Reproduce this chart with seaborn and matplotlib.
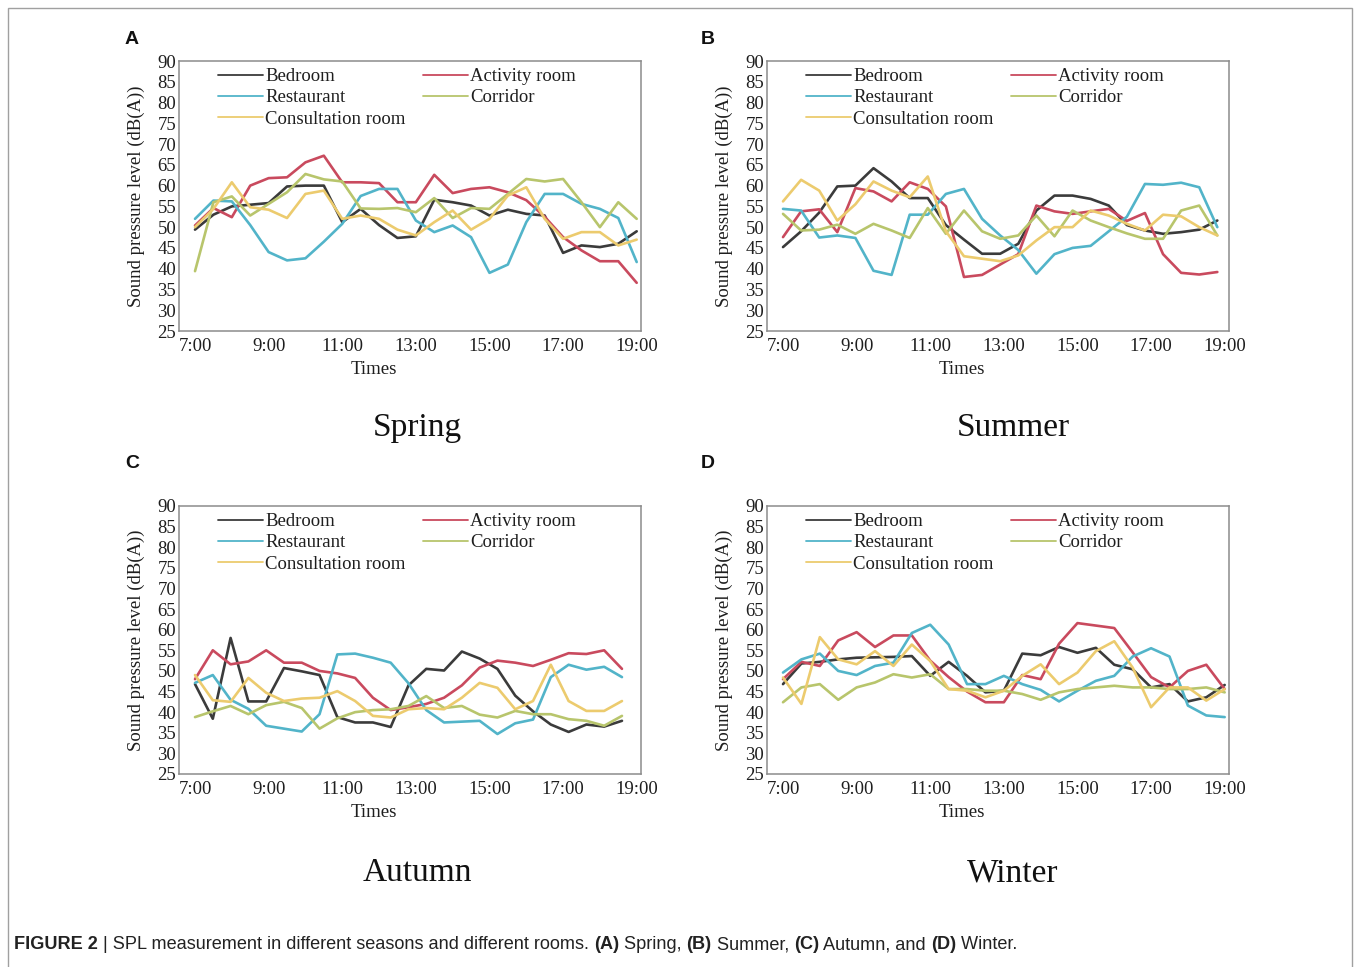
import numpy as np
import pandas as pd
import matplotlib
matplotlib.use("Agg")
import matplotlib.pyplot as plt
import seaborn as sns

# ---------------------------------------------------------------- data
ROOMS = ["Bedroom", "Activity room", "Restaurant", "Corridor", "Consultation room"]
ROOM_COLORS = ["#3b3b3b", "#c94a5e", "#52b4c9", "#b8c56c", "#eccb6e"]

SPRING = {
    "Bedroom": [49.4, 53.0, 55.0, 55.4, 55.8, 59.8, 60.0, 60.0, 51.2, 54.4, 50.5, 47.4, 47.8,
                56.6, 56.0, 55.2, 52.8, 54.2, 53.2, 52.8, 43.8, 45.6, 45.2, 46.0, 49.0],
    "Activity room": [50.4, 54.6, 52.4, 60.0, 61.8, 62.0, 65.6, 67.2, 60.8, 60.8, 60.6, 56.0, 56.0,
                      62.6, 58.2, 59.2, 59.6, 58.4, 56.5, 52.5, 47.6, 44.4, 41.8, 41.8, 36.6],
    "Restaurant": [52.0, 56.4, 56.2, 50.5, 44.0, 42.0, 42.5, 46.5, 50.8, 57.5, 59.2, 59.2, 51.6,
                   48.8, 50.4, 47.6, 39.0, 41.0, 51.2, 58.0, 58.0, 55.6, 54.4, 52.2, 41.6],
    "Corridor": [39.4, 56.0, 57.4, 52.8, 55.6, 58.4, 62.8, 61.5, 61.0, 54.5, 54.4, 54.6, 53.6,
                 57.0, 52.2, 54.6, 54.4, 58.0, 61.6, 61.0, 61.6, 56.0, 50.0, 56.0, 52.0],
    "Consultation room": [50.0, 54.4, 60.8, 54.8, 54.2, 52.2, 58.0, 58.8, 52.0, 52.8, 52.0, 49.4, 48.0,
                          51.2, 54.0, 49.4, 52.0, 57.6, 59.6, 52.0, 47.2, 48.8, 48.8, 45.6, 47.0],
}

SUMMER = {
    "Bedroom": [45.2, 49.0, 53.5, 59.8, 60.0, 64.2, 61.0, 57.0, 57.0, 50.5, 47.0, 43.6, 43.6,
                46.0, 54.0, 57.6, 57.6, 56.8, 55.2, 50.5, 49.2, 48.4, 48.8, 49.4, 51.6],
    "Activity room": [47.6, 53.8, 54.3, 48.8, 59.4, 58.6, 56.2, 60.8, 59.2, 55.0, 38.0, 38.5, 41.0,
                      43.5, 55.2, 53.8, 53.2, 53.8, 54.4, 51.5, 53.4, 43.5, 39.0, 38.6, 39.2],
    "Restaurant": [54.4, 54.0, 47.5, 48.0, 47.4, 39.5, 38.5, 53.0, 53.0, 58.0, 59.2, 52.0, 48.0,
                   44.5, 38.8, 43.5, 45.0, 45.5, 49.0, 52.5, 60.4, 60.2, 60.7, 59.6, 50.0],
    "Corridor": [53.2, 49.2, 49.4, 50.6, 48.4, 50.8, 49.2, 47.4, 54.6, 48.4, 54.0, 49.0, 47.2,
                 48.0, 52.8, 47.8, 54.0, 51.6, 50.0, 48.5, 47.2, 47.2, 54.0, 55.2, 48.0],
    "Consultation room": [56.2, 61.4, 58.8, 51.6, 55.5, 61.0, 58.8, 57.2, 62.2, 49.0, 43.0, 42.4, 41.8,
                          43.2, 46.8, 50.0, 50.0, 54.0, 52.8, 50.8, 49.2, 53.0, 52.6, 50.0, 48.0],
}

AUTUMN = {
    "Bedroom": [46.8, 38.4, 58.0, 42.6, 42.6, 50.7, 49.9, 49.0, 38.8, 37.5, 37.5, 36.4, 46.5,
                50.5, 50.1, 54.7, 53.0, 50.5, 44.0, 40.2, 37.0, 35.2, 37.0, 36.5, 37.9],
    "Activity room": [48.0, 55.0, 51.6, 52.3, 55.0, 52.0, 52.0, 50.0, 49.4, 48.3, 43.5, 40.5, 41.2,
                      42.0, 43.5, 46.5, 50.8, 52.5, 52.0, 51.2, 52.7, 54.3, 54.1, 55.0, 50.5],
    "Restaurant": [47.1, 49.0, 43.0, 40.8, 36.7, 36.0, 35.3, 39.5, 54.0, 54.2, 53.2, 52.0, 47.0,
                   40.5, 37.5, 37.7, 37.9, 34.7, 37.3, 38.2, 48.5, 51.5, 50.3, 51.0, 48.5],
    "Corridor": [38.8, 40.2, 41.5, 39.5, 41.7, 42.5, 41.0, 36.0, 38.5, 40.0, 40.5, 40.7, 41.5,
                 43.9, 41.0, 41.5, 39.4, 38.7, 40.3, 39.5, 39.5, 38.3, 37.9, 36.7, 39.1],
    "Consultation room": [49.0, 42.9, 42.5, 48.3, 44.7, 42.7, 43.3, 43.5, 45.1, 42.7, 39.1, 38.7, 40.7,
                          41.0, 40.7, 43.5, 47.1, 45.9, 40.7, 42.7, 51.5, 42.7, 40.3, 40.3, 42.7],
}

WINTER = {
    "Bedroom": [46.8, 51.8, 52.2, 52.8, 53.2, 53.3, 53.4, 53.6, 48.8, 52.2, 48.8, 44.8, 45.2,
                54.2, 53.8, 55.8, 54.4, 55.6, 51.5, 50.4, 46.0, 46.8, 42.6, 43.6, 46.6],
    "Activity room": [48.0, 52.2, 51.2, 57.4, 59.4, 55.8, 58.6, 58.6, 52.5, 48.5, 45.0, 42.4, 42.4,
                      49.0, 48.0, 56.6, 61.6, 61.0, 60.4, 54.5, 48.5, 46.0, 50.0, 51.5, 45.6],
    "Restaurant": [49.6, 52.8, 54.2, 50.0, 49.0, 51.2, 52.0, 59.2, 61.2, 56.4, 46.8, 46.8, 48.8,
                   46.8, 45.4, 42.6, 45.2, 47.6, 48.8, 53.5, 55.5, 53.5, 41.6, 39.2, 38.8],
    "Corridor": [42.4, 46.0, 46.8, 43.0, 46.0, 47.2, 49.2, 48.4, 49.2, 45.6, 45.6, 45.2, 45.2,
                 44.4, 43.0, 44.8, 45.6, 46.0, 46.4, 46.0, 46.0, 45.6, 45.6, 46.0, 44.8],
    "Consultation room": [48.4, 42.0, 58.2, 52.8, 51.6, 54.8, 51.2, 56.4, 52.4, 45.6, 45.2, 43.6, 45.2,
                          48.8, 51.6, 46.8, 49.6, 54.8, 57.2, 50.8, 41.2, 46.0, 46.0, 42.8, 45.6],
}

SEASONS = ["Spring", "Summer", "Autumn", "Winter"]
SEASON_DATA = [SPRING, SUMMER, AUTUMN, WINTER]
PANEL_LETTERS = ["A", "B", "C", "D"]
# clock time (hours) of the last reading of the day in each season
LAST_READING = [19.0, 18.8, 18.6, 19.0]
TICK_HOURS = [7, 9, 11, 13, 15, 17, 19]
TICK_LABELS = ["7:00", "9:00", "11:00", "13:00", "15:00", "17:00", "19:00"]
Y_TICKS = list(range(25, 95, 5))

# ---------------------------------------------------------------- style
sns.set_theme(style="white")
plt.rcParams["font.family"] = ["Liberation Serif", "DejaVu Serif"]
plt.rcParams["axes.unicode_minus"] = False

W, H = 1360, 967
fig = plt.figure(figsize=(W / 100, H / 100), dpi=100)
fig.patch.set_facecolor("white")


def axes_at(left, top, right, bottom):
    return fig.add_axes([left / W, 1 - bottom / H, (right - left) / W, (bottom - top) / H])


PANEL_BOXES = [(179, 61, 641, 331), (767, 61, 1229, 331),
               (179, 506, 641, 774), (767, 506, 1229, 774)]
LETTER_POS = [(132, 40), (708, 40), (132, 464), (708, 464)]
TITLE_POS = [(417, 428), (1013, 428), (417, 873), (1013, 873)]
SPINE_COLOR = "#8c8c8c"
TEXT_COLOR = "#1e1e1e"

for season, data, letter, last, box, lpos, tpos in zip(
        SEASONS, SEASON_DATA, PANEL_LETTERS, LAST_READING, PANEL_BOXES, LETTER_POS, TITLE_POS):
    times = np.linspace(7.0, last, len(data["Bedroom"]))
    long = pd.concat(
        [pd.DataFrame({"time": times, "spl": data[r], "room": r}) for r in ROOMS],
        ignore_index=True)

    ax = axes_at(*box)
    sns.lineplot(data=long, x="time", y="spl", hue="room", hue_order=ROOMS,
                 palette=ROOM_COLORS, linewidth=1.9, ax=ax, legend=True)

    ax.set_xlim(6.565, 19.117)
    ax.set_ylim(25, 90)
    ax.set_xticks(TICK_HOURS)
    ax.set_xticklabels(TICK_LABELS)
    ax.set_yticks(Y_TICKS)
    ax.tick_params(axis="both", direction="in", length=5, width=1.0, color=SPINE_COLOR,
                   labelsize=13.5, labelcolor=TEXT_COLOR)
    ax.tick_params(axis="y", pad=2)
    ax.tick_params(axis="x", pad=5)
    for sp in ax.spines.values():
        sp.set_visible(True)
        sp.set_color(SPINE_COLOR)
        sp.set_linewidth(1.1)

    ax.set_xlabel("Times", fontsize=13.5, color=TEXT_COLOR)
    ax.xaxis.set_label_coords(0.422, -0.112)
    ax.set_ylabel("Sound pressure level (dB(A))", fontsize=13.5, color=TEXT_COLOR)
    ax.yaxis.set_label_coords(-0.074, 0.5)

    # legend in two columns, filled row by row
    handles, labels = ax.get_legend_handles_labels()
    lookup = dict(zip(labels, handles))
    order = ["Bedroom", "Restaurant", "Consultation room", "Activity room", "Corridor"]
    leg = ax.legend([lookup[k] for k in order], order, ncol=2, frameon=False,
                    loc="upper left", bbox_to_anchor=(0.084, 0.974), borderaxespad=0,
                    borderpad=0, fontsize=13.5, handlelength=2.4, handletextpad=0.12,
                    labelspacing=0.22, columnspacing=0.95)
    for t in leg.get_texts():
        t.set_color(TEXT_COLOR)
    for ln in leg.get_lines():
        ln.set_linewidth(1.3)

    fig.text(lpos[0] / W, 1 - lpos[1] / H, letter, ha="center", va="center",
             fontsize=14, fontweight="bold", family=["Liberation Sans", "DejaVu Sans"],
             color="#111111")
    fig.text(tpos[0] / W, 1 - tpos[1] / H, season, ha="center", va="center",
             fontsize=24, color="#111111")

# thin frame around the whole figure (open at the bottom edge)
fig.add_artist(plt.Rectangle((8 / W, -0.02), (1352 - 8) / W, 1 - 8 / H + 0.02,
                             transform=fig.transFigure, fill=False,
                             edgecolor="#a0a0a0", linewidth=1.0))

# caption with bold runs
caption = [("FIGURE 2", "bold"),
           (" | SPL measurement in different seasons and different rooms. ", "normal"),
           ("(A)", "bold"), (" Spring, ", "normal"),
           ("(B)", "bold"), (" Summer, ", "normal"),
           ("(C)", "bold"), (" Autumn, and ", "normal"),
           ("(D)", "bold"), (" Winter.", "normal")]
fig.canvas.draw()
renderer = fig.canvas.get_renderer()
x_px = 14
for txt, weight in caption:
    t = fig.text(x_px / W, 1 - 949 / H, txt, ha="left", va="baseline", fontsize=13.1,
                 fontweight=weight, family=["Liberation Sans", "DejaVu Sans"],
                 color="#222222")
    bb = t.get_window_extent(renderer=renderer)
    x_px += bb.width

fig.savefig("out.png", dpi=100, facecolor="white")
